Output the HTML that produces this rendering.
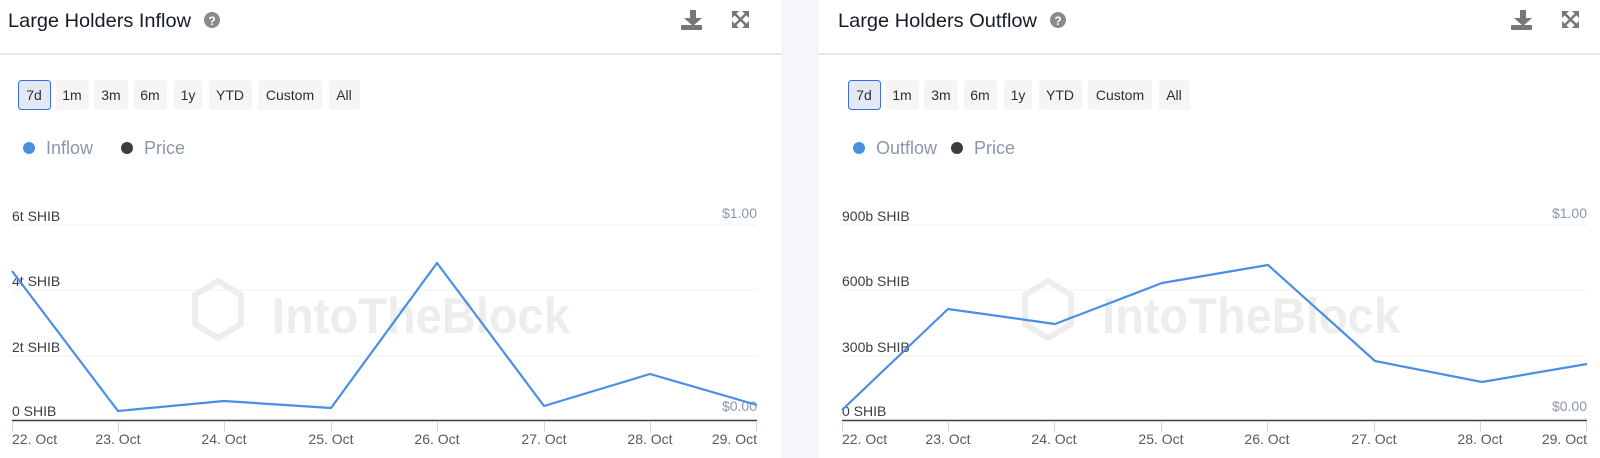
<!DOCTYPE html>
<html><head><meta charset="utf-8"><style>
html,body{margin:0;padding:0;background:#fff;}
svg{display:block;font-family:"Liberation Sans",sans-serif;}
</style></head><body>
<svg width="1600" height="458" viewBox="0 0 1600 458" xmlns="http://www.w3.org/2000/svg">
<defs>
<g id="panel">
  <line x1="-12" y1="54" x2="782" y2="54" stroke="#e6e7ea" stroke-width="2"/>
  <g fill="#777">
    <rect x="690" y="10" width="6" height="9"/><polygon points="684,18 702,18 693,26"/>
    <rect x="681" y="25" width="21" height="5" rx="1"/>
  </g>
  <g stroke="#777" stroke-width="2.6" fill="none">
    <line x1="734" y1="13" x2="747" y2="26"/><line x1="747" y1="13" x2="734" y2="26"/>
  </g>
  <g fill="#777"><polygon points="732,11 739,11 732,18"/><polygon points="749,11 742,11 749,18"/><polygon points="732,28 739,28 732,21"/><polygon points="749,28 742,28 749,21"/></g>
  <g font-size="14" fill="#2a2f3a" text-anchor="middle">
    <rect x="18.5" y="80.5" width="32" height="29" rx="3" fill="#e3e8f3" stroke="#3b6cf0"/>
    <text x="34" y="100">7d</text>
    <rect x="56" y="80" width="33" height="30" rx="3" fill="#f5f5f5"/><text x="72" y="100">1m</text>
    <rect x="94" y="80" width="34" height="30" rx="3" fill="#f5f5f5"/><text x="111" y="100">3m</text>
    <rect x="134" y="80" width="33" height="30" rx="3" fill="#f5f5f5"/><text x="150" y="100">6m</text>
    <rect x="174" y="80" width="28" height="30" rx="3" fill="#f5f5f5"/><text x="188" y="100">1y</text>
    <rect x="209" y="80" width="43" height="30" rx="3" fill="#f5f5f5"/><text x="230" y="100">YTD</text>
    <rect x="258" y="80" width="64" height="30" rx="3" fill="#f5f5f5"/><text x="290" y="100">Custom</text>
    <rect x="329" y="80" width="31" height="30" rx="3" fill="#f5f5f5"/><text x="344" y="100">All</text>
  </g>
  <circle cx="29" cy="148" r="6" fill="#4a90e2"/>
  <circle cx="127" cy="148" r="6" fill="#3a3e44"/>
  <text x="144" y="154" font-size="18" fill="#8c97a6">Price</text>
  <g stroke="#f0f0f0" stroke-width="1"><line x1="12" y1="225" x2="757" y2="225"/><line x1="12" y1="290" x2="757" y2="290"/><line x1="12" y1="356" x2="757" y2="356"/></g>
  <g fill="#ededed">
    <polygon points="218,281 241,295 241,324 218,338 195,324 195,295" fill="none" stroke="#ededed" stroke-width="6"/>
    <text x="272" y="333" font-size="50" font-weight="bold" textLength="298" lengthAdjust="spacingAndGlyphs">IntoTheBlock</text>
  </g>
  <line x1="12" y1="420.5" x2="757" y2="420.5" stroke="#3a3e44" stroke-width="1.5"/>
  <g stroke="#cdd6ea"><line x1="12.5" y1="421" x2="12.5" y2="432"/><line x1="118.5" y1="421" x2="118.5" y2="432"/><line x1="224.5" y1="421" x2="224.5" y2="432"/><line x1="331.5" y1="421" x2="331.5" y2="432"/><line x1="437.5" y1="421" x2="437.5" y2="432"/><line x1="544.5" y1="421" x2="544.5" y2="432"/><line x1="650.5" y1="421" x2="650.5" y2="432"/><line x1="756.5" y1="421" x2="756.5" y2="432"/></g>
  <g font-size="14" fill="#555a62" text-anchor="middle">
    <text x="12" y="444" text-anchor="start">22. Oct</text><text x="118" y="444">23. Oct</text><text x="224" y="444">24. Oct</text><text x="331" y="444">25. Oct</text><text x="437" y="444">26. Oct</text><text x="544" y="444">27. Oct</text><text x="650" y="444">28. Oct</text><text x="757" y="444" text-anchor="end">29. Oct</text>
  </g>
  <g font-size="14" fill="#8c97a6" text-anchor="end"><text x="757" y="218">$1.00</text><text x="757" y="411">$0.00</text></g>
</g>
</defs>
<rect x="782" y="0" width="36" height="458" fill="#f6f7fb"/>
<line x1="782.5" y1="0" x2="782.5" y2="458" stroke="#eceef3"/>
<line x1="817.5" y1="0" x2="817.5" y2="458" stroke="#eceef3"/>
<svg x="0" y="0" width="782" height="458" viewBox="0 0 782 458" overflow="hidden">
  <use href="#panel"/>
  <text x="8" y="27" font-size="19.5" fill="#161b26" textLength="183" lengthAdjust="spacingAndGlyphs">Large Holders Inflow</text>
  <circle cx="212" cy="20" r="8" fill="#8a8a8a"/><text x="212" y="25" font-size="12" font-weight="bold" fill="#fff" text-anchor="middle">?</text>
  <text x="46" y="154" font-size="18" fill="#8c97a6">Inflow</text>
  <g font-size="14" fill="#3a3e44"><text x="12" y="221">6t SHIB</text><text x="12" y="286">4t SHIB</text><text x="12" y="352">2t SHIB</text><text x="12" y="416">0 SHIB</text></g>
  <polyline fill="none" stroke="#4a8ee6" stroke-width="2.2" stroke-linejoin="round" points="12,271 118,411 224,401 331,408 437,263 544,406 650,374 757,405"/>
</svg>
<svg x="818" y="0" width="782" height="458" viewBox="-12 0 782 458" overflow="hidden">
  <use href="#panel"/>
  <text x="8" y="27" font-size="19.5" fill="#161b26" textLength="199" lengthAdjust="spacingAndGlyphs">Large Holders Outflow</text>
  <circle cx="228" cy="20" r="8" fill="#8a8a8a"/><text x="228" y="25" font-size="12" font-weight="bold" fill="#fff" text-anchor="middle">?</text>
  <text x="46" y="154" font-size="18" fill="#8c97a6">Outflow</text>
  <g font-size="14" fill="#3a3e44"><text x="12" y="221">900b SHIB</text><text x="12" y="286">600b SHIB</text><text x="12" y="352">300b SHIB</text><text x="12" y="416">0 SHIB</text></g>
  <polyline fill="none" stroke="#4a8ee6" stroke-width="2.2" stroke-linejoin="round" points="12,410 118,309 225,324 332,283 438,265 545,361 652,382 757,364"/>
</svg>
</svg>
</body></html>
